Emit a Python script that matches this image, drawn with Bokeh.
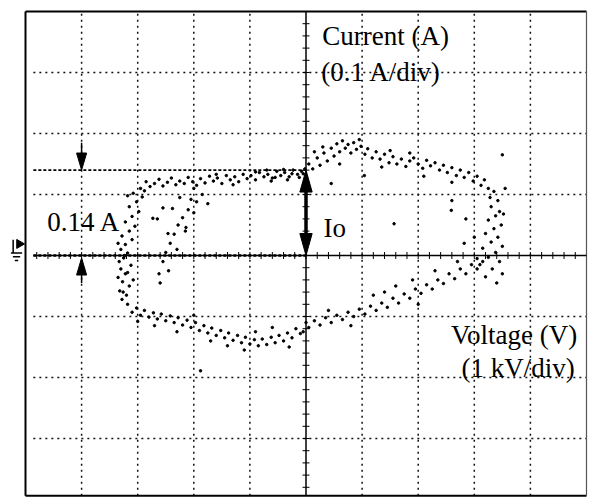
import numpy as np
from bokeh.plotting import figure
from bokeh.models import Range1d, Label
from bokeh.embed import file_html
from bokeh.resources import INLINE

# ---- Lissajous trace samples: voltage (kV) vs current (A) ----
upper_left_v = [-2.95,-2.85,-2.78,-2.70,-2.62,-2.55,-2.47,-2.40,-2.32,-2.25,
                -2.17,-2.10,-2.02,-1.95,-1.88,-1.80,-1.72,-1.65,-1.58,-1.50,
                -1.42,-1.35,-1.27,-1.20,-1.12,-1.05,-0.98,-0.90,-0.83,-0.75,
                -0.68,-0.60,-0.52,-0.45,-0.38,-0.30,-0.23,-0.15,-0.08,-0.02,
                -0.90,-0.70,-0.55,-0.40,-0.25,-0.12,-0.05,-1.30,-1.60,-2.00,-0.62,-0.33]
upper_left_i = [0.110,0.121,0.113,0.118,0.125,0.114,0.120,0.127,0.116,0.122,
                0.118,0.128,0.121,0.115,0.126,0.119,0.130,0.122,0.127,0.118,
                0.131,0.124,0.129,0.121,0.133,0.126,0.131,0.124,0.136,0.129,
                0.133,0.127,0.138,0.131,0.136,0.129,0.140,0.133,0.138,0.142,
                0.137,0.140,0.128,0.141,0.134,0.128,0.134,0.116,0.133,0.110,0.122,0.124]

upper_right_v = [0.05,0.12,0.20,0.25,0.32,0.38,0.45,0.50,0.55,0.60,
                 0.65,0.70,0.75,0.80,0.85,0.90,0.98,1.05,1.10,1.18,
                 1.25,1.32,1.40,1.48,1.55,1.62,1.70,1.78,1.85,1.92,
                 2.00,2.08,2.15,2.22,2.30,2.38,2.45,2.52,2.60,2.68,
                 2.75,2.82,2.90,2.98,3.05,3.12,3.18,3.25,
                 0.30,0.95,1.50,2.10,0.60,1.35,2.60,0.15,1.85,0.45,1.04]
upper_right_i = [0.150,0.142,0.160,0.148,0.168,0.155,0.176,0.163,0.183,0.170,
                 0.188,0.176,0.182,0.168,0.185,0.174,0.179,0.166,0.175,0.160,
                 0.170,0.158,0.166,0.152,0.162,0.150,0.158,0.146,0.155,0.160,
                 0.150,0.143,0.156,0.147,0.152,0.140,0.148,0.136,0.144,0.131,
                 0.140,0.128,0.136,0.122,0.130,0.115,0.124,0.110,
                 0.178,0.190,0.172,0.130,0.150,0.145,0.120,0.170,0.168,0.118,0.131]

right_v = [3.35,3.28,3.42,3.30,3.45,3.38,3.25,3.48,3.35,3.20,
           3.42,3.30,3.50,3.15,3.38,3.25,3.45,3.10,3.32,3.50,
           3.20,3.40,3.05,3.00,2.85,3.50,3.55,3.52,2.60,2.59,
           2.82,1.57]
right_i = [0.105,0.095,0.090,0.080,0.072,0.065,0.058,0.050,0.044,0.036,
           0.030,0.022,0.015,0.012,0.005,-0.003,-0.010,-0.015,-0.022,-0.030,
           -0.035,-0.045,-0.005,0.030,0.060,0.165,0.110,0.068,0.090,0.074,
           0.020,0.052]

lower_right_v = [3.15,3.05,2.95,2.85,2.75,2.65,2.55,2.45,2.35,2.25,
                 2.15,2.05,1.95,1.85,1.75,1.65,1.55,1.45,1.35,1.25,
                 1.15,1.05,0.95,0.85,0.75,0.65,0.55,0.45,0.35,0.25,
                 0.15,0.05,0.00,-0.05,
                 2.30,1.90,1.60,2.00,1.20,0.80,0.40,2.70,1.40]
lower_right_i = [-0.010,-0.022,-0.015,-0.030,-0.022,-0.038,-0.030,-0.046,-0.040,-0.055,
                 -0.048,-0.062,-0.055,-0.070,-0.063,-0.078,-0.070,-0.085,-0.078,-0.090,
                 -0.083,-0.096,-0.088,-0.100,-0.093,-0.105,-0.098,-0.110,-0.102,-0.114,
                 -0.107,-0.118,-0.110,-0.125,
                 -0.025,-0.040,-0.050,-0.080,-0.065,-0.115,-0.090,-0.010,-0.060]

lower_left_v = [-0.10,-0.18,-0.25,-0.33,-0.40,-0.48,-0.55,-0.62,-0.70,-0.78,
                -0.85,-0.92,-1.00,-1.08,-1.15,-1.22,-1.30,-1.38,-1.45,-1.52,
                -1.60,-1.68,-1.75,-1.82,-1.90,-1.97,-2.05,-2.12,-2.20,-2.28,
                -2.35,-2.42,-2.50,-2.58,-2.65,-2.72,-2.80,-2.88,-2.95,-3.02,
                -3.10,-3.18,
                -0.90,-1.40,-2.30,-2.00,-0.60,-1.10,-2.70,-3.00,-0.30,-1.70,-1.88]
lower_left_i = [-0.128,-0.120,-0.135,-0.127,-0.140,-0.131,-0.143,-0.134,-0.146,-0.137,
                -0.148,-0.138,-0.145,-0.134,-0.143,-0.131,-0.139,-0.127,-0.135,-0.123,
                -0.131,-0.119,-0.127,-0.115,-0.123,-0.110,-0.118,-0.106,-0.114,-0.102,
                -0.110,-0.099,-0.107,-0.096,-0.104,-0.094,-0.101,-0.090,-0.098,-0.086,
                -0.093,-0.080,
                -0.125,-0.148,-0.125,-0.098,-0.118,-0.155,-0.115,-0.108,-0.150,-0.140,-0.189]

left_v = [-3.28,-3.20,-3.32,-3.15,-3.27,-3.35,-3.22,-3.30,-3.12,-3.33,
          -3.25,-3.18,-3.30,-3.22,-3.10,-3.28,-3.15,-3.05,-3.22,-3.10,
          -2.98,-3.15,-3.02,-2.92,-3.08,-2.88,
          -3.26,-3.18,-3.24,-3.08,-3.35,-3.18]
left_i = [-0.072,-0.065,-0.058,-0.050,-0.043,-0.036,-0.030,-0.022,-0.016,-0.010,
          -0.004,0.004,0.010,0.018,0.026,0.032,0.040,0.048,0.055,0.064,
          0.072,0.080,0.088,0.096,0.102,0.106,
          -0.060,-0.028,0.000,-0.040,0.020,0.098]

inner_v = [-1.85,-1.95,-2.05,-2.10,-2.00,-2.20,-2.28,-2.15,-2.35,-2.42,
           -2.30,-2.50,-2.55,-2.45,-2.62,-2.60,-1.75,-2.25,-2.65,-2.55,
           -2.73,-2.38,-2.14,-2.46]
inner_i = [0.100,0.088,0.092,0.075,0.070,0.062,0.050,0.040,0.035,0.020,
           0.010,0.005,-0.010,-0.025,-0.030,-0.045,0.085,0.095,0.060,0.078,
           0.061,0.077,0.046,0.036]

# graticule: 1 kV/div horizontally, 0.1 A/div vertically
grid_v = [-4, -3, -2, -1, 1, 2, 3, 4]
grid_i = [-0.3, -0.2, -0.1, 0.1, 0.2, 0.3]
edge_v = 5.0             # graticule half width (kV)
edge_i = 0.4             # graticule half height (A)
io_value = 0.14          # Io cursor
cursor_v = -4.0          # column of the small cursor arrows

volts = upper_left_v + upper_right_v + right_v + lower_right_v + lower_left_v + left_v + inner_v
amps = upper_left_i + upper_right_i + right_i + lower_right_i + lower_left_i + left_i + inner_i

# pixel scale of the scope photo: 56.1 px/kV, 610 px/A, centre at (305.5, 255)
p = figure(width=590, height=497, output_backend="svg", toolbar_location=None,
           x_range=Range1d(-305.5 / 56.1, 284.5 / 56.1),
           y_range=Range1d(-242 / 610, 255 / 610),
           min_border_left=0, min_border_right=0, min_border_top=0, min_border_bottom=0)
p.xaxis.visible = False
p.yaxis.visible = False
p.grid.visible = False
p.outline_line_color = None
p.background_fill_color = "white"
p.border_fill_color = "white"

ybot = p.y_range.start + 0.003
gx0 = -edge_v + 0.14

# dotted graticule
p.segment(x0=grid_v, y0=[ybot] * len(grid_v), x1=grid_v, y1=[edge_i] * len(grid_v),
          line_color="#111111", line_width=1.5, line_dash="2 4")
p.segment(x0=[gx0] * len(grid_i), y0=grid_i, x1=[edge_v] * len(grid_i), y1=grid_i,
          line_color="#111111", line_width=1.5, line_dash="2 4")

# graticule border
p.segment(x0=[-edge_v, -edge_v, -edge_v], y0=[ybot, edge_i, ybot],
          x1=[-edge_v, edge_v, edge_v], y1=[edge_i, edge_i, ybot],
          line_color="black", line_width=2)
p.segment(x0=[edge_v], y0=[ybot], x1=[edge_v], y1=[edge_i],
          line_color="#555555", line_width=1.2)

# centre axes with minor ticks (0.2 div)
p.segment(x0=[gx0], y0=[0], x1=[edge_v], y1=[0], line_color="black", line_width=1.5)
p.segment(x0=[0], y0=[ybot], x1=[0], y1=[edge_i], line_color="black", line_width=1.5)
tick_v = np.round(np.arange(-4.8, 4.8001, 0.2), 3)
tick_i = np.round(np.arange(-0.38, 0.3801, 0.02), 3)
p.scatter(tick_v, np.zeros_like(tick_v), marker="dash", angle=np.pi / 2, size=7,
          line_color="black", line_width=1)
p.scatter(np.zeros_like(tick_i), tick_i, marker="dash", size=7,
          line_color="black", line_width=1)

# cursor lines (Io level and zero level, left half)
p.segment(x0=[gx0], y0=[io_value], x1=[0], y1=[io_value],
          line_color="black", line_width=1.8, line_dash="3 2")
p.segment(x0=[gx0], y0=[0], x1=[0], y1=[0],
          line_color="black", line_width=2.4, line_dash="3 2")

# ground reference symbol at the left of the zero line
gsx = -edge_v - 0.16
p.segment(x0=[gsx - 0.10, gsx - 0.065, gsx - 0.03, gsx - 0.06],
          y0=[0.004, -0.002, -0.008, 0.026],
          x1=[gsx + 0.10, gsx + 0.065, gsx + 0.03, gsx - 0.06],
          y1=[0.004, -0.002, -0.008, 0.004],
          line_color="black", line_width=1.5)
p.scatter([gsx + 0.05], [0.019], marker="triangle", angle=-np.pi / 2, size=9, color="black")

# trace
p.scatter(volts, amps, marker="circle", size=2.5, color="black")

# Io double arrow
hw, hl = 0.11, 0.036
p.segment(x0=[0], y0=[hl * 0.8], x1=[0], y1=[io_value - hl * 0.8],
          line_color="black", line_width=3.5)
p.patches(xs=[[0, -hw, hw], [0, -hw, hw]],
          ys=[[io_value, io_value - hl, io_value - hl], [0, hl, hl]],
          color="black")

# small cursor arrows at the left
shw, shl, sl = 0.09, 0.028, 0.045
p.segment(x0=[cursor_v, cursor_v], y0=[io_value + sl, -sl],
          x1=[cursor_v, cursor_v], y1=[io_value + shl * 0.8, -shl * 0.8],
          line_color="black", line_width=1.5)
p.patches(xs=[[cursor_v, cursor_v - shw, cursor_v + shw], [cursor_v, cursor_v - shw, cursor_v + shw]],
          ys=[[io_value, io_value + shl, io_value + shl], [-0.004, -0.004 - shl, -0.004 - shl]],
          color="black")

font = "Liberation Serif"
fs = "27px"
labels = [
    ("Current (A)", 0.289, 0.3595, "left"),
    ("(0.1 A/div)", 0.271, 0.3005, "left"),
    ("Voltage (V)", 3.708, -0.1311, "center"),
    ("(1 kV/div)", 3.779, -0.1852, "center"),
    ("0.14 A", -4.613, 0.0546, "left"),
    ("Io", 0.312, 0.0459, "left"),
]
for txt, lx, ly, al in labels:
    p.add_layout(Label(x=lx, y=ly, text=txt, text_font=font, text_font_size=fs,
                       text_align=al, text_baseline="alphabetic", text_color="black"))

open("out.html", "w").write(file_html(p, INLINE))
